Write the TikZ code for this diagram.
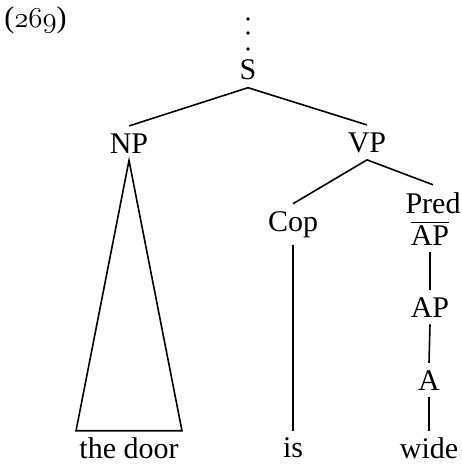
\documentclass[tikz,border=0pt]{standalone}
\usepackage{fontspec}
\setmainfont{Liberation Serif}
\usetikzlibrary{positioning}
\newcommand{\exnum}[1]{{\fontencoding{OML}\fontfamily{cmm}\fontseries{m}\fontshape{it}\selectfont #1}}

\begin{document}
\begin{tikzpicture}[
  x=0.5pt, y=-0.5pt, font=\fontsize{15pt}{18pt}\selectfont,
  cat/.style={anchor=base, inner sep=3.5pt},
  word/.style={anchor=base, inner xsep=1.5pt, inner ysep=3pt},
  branch/.style={line width=0.8pt},
]
\useasboundingbox (0,0) rectangle (461,465);

% example number
\node[anchor=base west, inner sep=0pt] (num) at (4,28) {(\exnum{269})};

% dots above the root
\foreach \y in {19,33,49}
  \fill (248,\y) circle (1.8);

% categories
\node[cat] (S) at (248,80) {S};
\node[cat] (NP) at (129,153) {NP};
\node[cat] (VP) at (367,152) {VP};
\node[cat] (Cop) at (293,231) {Cop};
\node[cat] (Pred) at (433,213) {Pred};
\node[cat] (APbar) at (430,245) {$\overline{\mbox{AP}}$};
\node[cat] (AP) at (430,317) {AP};
\node[cat] (A) at (429,390) {A};

% words
\node[word] (door) at (129,458) {the door};
\node[word] (is) at (293,457) {is};
\node[word] (wide) at (429,458) {wide};

% branches
\draw[branch] (S.south) -- (NP.north);
\draw[branch] (S.south) -- (VP.north);
\draw[branch] (VP.south) -- (Cop.north);
\draw[branch] (VP.south) -- (Pred.north);
\draw[branch] (APbar.south) -- (AP.north);
\draw[branch] (AP.south) -- (A.north);
\draw[branch] (A.south) -- (wide.north);
\draw[branch] (Cop.south) -- (is.north);

% NP triangle
\draw[branch] (NP.south) -- (door.north west) -- (door.north east) -- cycle;

\end{tikzpicture}
\end{document}
